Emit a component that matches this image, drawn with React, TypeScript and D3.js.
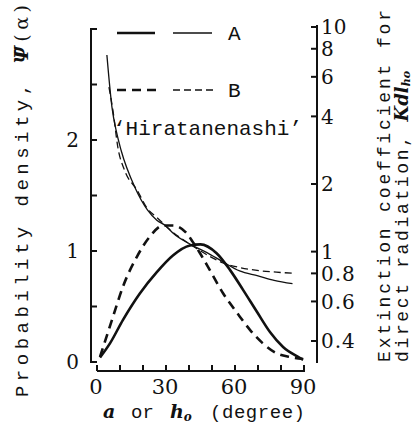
import React from "react";
import * as d3 from "d3";

// Probability density (left axis) vs. angle
const degA = [1.3, 5.7, 11.3, 18.7, 26, 33, 40.4, 45, 52, 57.8, 63.5, 69.6, 75.2, 80.9, 88.3, 89.6];
const densA = [0.04, 0.17, 0.38, 0.62, 0.81, 0.96, 1.05, 1.06, 0.98, 0.83, 0.65, 0.45, 0.27, 0.135, 0.036, 0.02];
const degB = [1.3, 7, 11.3, 17.4, 23, 28.7, 33, 39, 41.7, 44.8, 49, 54.8, 61, 66.5, 72, 78, 84, 89.6];
const densB = [0.045, 0.41, 0.68, 0.95, 1.13, 1.23, 1.23, 1.16, 1.08, 0.98, 0.83, 0.62, 0.44, 0.29, 0.17, 0.08, 0.045, 0.027];

// Extinction coefficient Kdl (right axis, log)
const kDegA = [4.3, 6.5, 8.5, 10.5, 16.5, 22, 26, 30, 33, 40.4, 47.8, 54.8, 62, 70, 77, 85];
const kValA = [7.5, 4.4, 3.4, 2.82, 1.93, 1.53, 1.38, 1.3, 1.21, 1.08, 0.99, 0.9, 0.82, 0.78, 0.745, 0.72];
const kDegB = [5.2, 7, 9.1, 12, 17.4, 22, 26, 31.7, 38, 44.8, 50, 54.8, 62, 69.6, 78, 86];
const kValB = [5.4, 4.2, 2.9, 2.3, 1.88, 1.55, 1.42, 1.25, 1.12, 1.01, 0.94, 0.89, 0.85, 0.825, 0.81, 0.8];

const xTicks = [0, 10, 20, 30, 40, 50, 60, 70, 80, 90];
const xTickLabels = [0, 30, 60, 90];
const leftTicks = [0, 0.5, 1, 1.5, 2, 2.5, 3];
const leftTickLabels = [0, 1, 2];
const rightTicks = [10, 8, 6, 4, 2, 1, 0.8, 0.6, 0.4];

const W = 413;
const H = 425;

export default function App() {
  const x = d3.scaleLinear().domain([0, 90]).range([97, 304]);
  const yL = d3.scaleLinear().domain([0, 3]).range([362, 29]);
  const yR = d3.scaleLog().domain([0.4, 10]).range([341, 27]);

  const lineL = d3
    .line<[number, number]>()
    .x((d) => x(d[0]))
    .y((d) => yL(d[1]))
    .curve(d3.curveMonotoneX);
  const lineR = d3
    .line<[number, number]>()
    .x((d) => x(d[0]))
    .y((d) => yR(d[1]))
    .curve(d3.curveMonotoneX);

  const zip = (a: number[], b: number[]) => a.map((v, i) => [v, b[i]] as [number, number]);

  const serif = "'DejaVu Serif', 'Liberation Serif', serif";
  const mono = "'Liberation Mono', 'DejaVu Sans Mono', monospace";
  const ink = "#111";

  return (
    <svg
      width={W}
      height={H}
      style={{ position: "absolute", left: 0, top: 0, background: "#fff" }}
      fontFamily={serif}
    >
      <rect x={0} y={0} width={W} height={H} fill="#fff" />
      {/* left axis */}
      <line x1={91} x2={91} y1={yL(3)} y2={yL(0)} stroke={ink} strokeWidth={2} />
      {leftTicks.map((t) => (
        <line key={t} x1={90} x2={97} y1={yL(t)} y2={yL(t)} stroke={ink} strokeWidth={2} />
      ))}
      {leftTickLabels.map((t) => (
        <text key={t} x={79} y={yL(t)} dy="0.36em" textAnchor="end" fontSize={20} fill={ink}>
          {t}
        </text>
      ))}

      {/* right axis */}
      <line x1={317} x2={317} y1={25} y2={yL(0) + 1} stroke={ink} strokeWidth={2} />
      {rightTicks.map((t) => (
        <line key={t} x1={311} x2={317} y1={yR(t)} y2={yR(t)} stroke={ink} strokeWidth={2} />
      ))}
      {rightTicks.map((t) => (
        <text key={"l" + t} x={321} y={yR(t)} dy="0.36em" fontSize={20} fill={ink} letterSpacing={t < 1 ? 1 : 0}>
          {String(t)}
        </text>
      ))}

      {/* x axis */}
      <line x1={x(0)} x2={x(90) + 1} y1={371} y2={371} stroke={ink} strokeWidth={2} />
      {xTicks.map((t) => (
        <line key={t} x1={x(t)} x2={x(t)} y1={365} y2={371} stroke={ink} strokeWidth={2} />
      ))}
      {xTickLabels.map((t) => (
        <text key={t} x={x(t) - 1} y={394} textAnchor="middle" fontSize={21} fill={ink}>
          {t}
        </text>
      ))}

      {/* curves */}
      <path d={lineL(zip(degA, densA)) || ""} fill="none" stroke={ink} strokeWidth={2.6} />
      <path d={lineL(zip(degB, densB)) || ""} fill="none" stroke={ink} strokeWidth={2.6} strokeDasharray="9,6" />
      <path d={lineR(zip(kDegA, kValA)) || ""} fill="none" stroke={ink} strokeWidth={1.3} />
      <path d={lineR(zip(kDegB, kValB)) || ""} fill="none" stroke={ink} strokeWidth={1.3} strokeDasharray="7,4" />

      {/* legend */}
      <line x1={117} x2={155} y1={33} y2={33} stroke={ink} strokeWidth={2.6} />
      <line x1={173} x2={212} y1={33} y2={33} stroke={ink} strokeWidth={1.3} />
      <text x={228} y={40} fontFamily={mono} fontSize={21} fill={ink}>A</text>
      <line x1={117} x2={157} y1={90} y2={90} stroke={ink} strokeWidth={2.6} strokeDasharray="9,6" />
      <line x1={173} x2={214} y1={90} y2={90} stroke={ink} strokeWidth={1.3} strokeDasharray="7,4" />
      <text x={228} y={97} fontFamily={mono} fontSize={21} fill={ink}>B</text>

      <text x={113} y={135} fontFamily={mono} fontSize={21} fill={ink}>
        ‘Hiratanenashi’
      </text>

      {/* left title */}
      <text
        transform="translate(28,397) rotate(-90)"
        fontFamily={mono}
        fontSize={19}
        fill={ink}
        textLength={392}
        lengthAdjust="spacing"
      >
        Probability density,{" "}
        <tspan fontFamily={serif} fontStyle="italic" fontWeight="bold">
          Ψ̄
        </tspan>
        <tspan fontFamily={serif}>(α)</tspan>
      </text>

      {/* right title */}
      <text
        transform="translate(390,362) rotate(-90)"
        fontFamily={mono}
        fontSize={18}
        fill={ink}
        textLength={352}
        lengthAdjust="spacing"
      >
        Extinction coefficient for
      </text>
      <text
        transform="translate(408,362) rotate(-90)"
        fontFamily={mono}
        fontSize={18}
        fill={ink}
      >
        <tspan textLength={226} lengthAdjust="spacing">direct radiation,</tspan>
        <tspan dx={12} fontFamily={serif} fontStyle="italic" fontWeight="bold">Kdl</tspan>
        <tspan fontFamily={serif} fontStyle="italic" fontWeight="bold" fontSize={11} dy={2}>ho</tspan>
      </text>

      {/* x title */}
      <text x={103} y={418} fontFamily={mono} fontSize={19} fill={ink}>
        <tspan fontFamily={serif} fontStyle="italic" fontWeight="bold">a</tspan>
        <tspan x={131}>or</tspan>
        <tspan x={170} fontFamily={serif} fontStyle="italic" fontWeight="bold">h</tspan>
        <tspan fontFamily={serif} fontStyle="italic" fontWeight="bold" fontSize={12} dy={3}>o</tspan>
        <tspan x={210} dy={-3} textLength={95} lengthAdjust="spacing">(degree)</tspan>
      </text>
    </svg>
  );
}
